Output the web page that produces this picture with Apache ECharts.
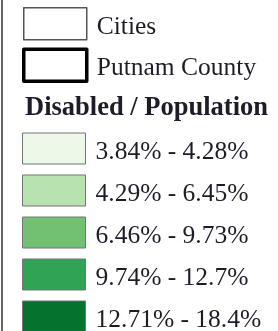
<!DOCTYPE html>
<html>
<head>
<meta charset="utf-8">
<script src="https://cdn.jsdelivr.net/npm/echarts@6/dist/echarts.min.js"></script>
<style>
  html, body { margin: 0; padding: 0; background: #fff; }
  #chart { width: 278px; height: 331px; }
</style>
</head>
<body>
<div id="chart"></div>
<script>
// legend contents
const boundaryNames = ["Cities", "Putnam County"];
const rangeNames = [
  "3.84% - 4.28%",
  "4.29% - 6.45%",
  "6.46% - 9.73%",
  "9.74% - 12.7%",
  "12.71% - 18.4%",
];
const headerText = "Disabled / Population";

// styles
const greens = ["#edf8e9", "#b8e3b0", "#72c173", "#31a354", "#03732e"];
const textColor = "#1d1d29";
const font = "Liberation Serif";

const chart = echarts.init(document.getElementById("chart"));

const boundaryStyles = [
  { color: "#ffffff", borderColor: "#555555", borderWidth: 1.5 },
  { color: "#ffffff", borderColor: "#000000", borderWidth: 3.5 },
];

const legendText = {
  color: textColor,
  fontFamily: font,
  fontSize: 25.5,
  rich: {
    t: {
      color: textColor,
      fontFamily: font,
      fontSize: 25.5,
      lineHeight: 22,
      padding: [7, 0, 0, 5],
    },
  },
};

const options = {
  animation: false,
  title: {
    text: headerText,
    left: 20,
    top: 90,
    textStyle: {
      color: textColor,
      fontFamily: font,
      fontWeight: "bold",
      fontSize: 26.5,
    },
  },
  legend: [
    {
      orient: "vertical",
      left: 22,
      top: 7,
      height: 100,
      padding: 0,
      icon: "rect",
      itemWidth: 63,
      itemHeight: 32,
      itemGap: 7,
      selectedMode: false,
      formatter: "{t|{name}}",
      textStyle: legendText,
      data: boundaryNames.map((n, i) => ({ name: n, itemStyle: boundaryStyles[i] })),
    },
    {
      orient: "vertical",
      left: 22,
      top: 132,
      height: 400,
      padding: 0,
      icon: "rect",
      itemWidth: 63,
      itemHeight: 31,
      itemGap: 9,
      selectedMode: false,
      formatter: "{t|{name}}",
      textStyle: legendText,
      data: rangeNames.map((n, i) => ({
        name: n,
        itemStyle: { color: greens[i], borderColor: "#757575", borderWidth: 1 },
      })),
    },
  ],
  graphic: [
    {
      type: "line",
      shape: { x1: 2, y1: 0, x2: 2, y2: 331 },
      style: { stroke: "#333", lineWidth: 1.5 },
    },
  ],
  series: [
    {
      type: "pie",
      radius: [0, 0],
      silent: true,
      label: { show: false },
      labelLine: { show: false },
      data: boundaryNames
        .map((n, i) => ({ name: n, value: 1, itemStyle: boundaryStyles[i] }))
        .concat(rangeNames.map((n, i) => ({ name: n, value: 1, itemStyle: { color: greens[i] } }))),
    },
  ],
};

chart.setOption(options);
</script>
</body>
</html>
